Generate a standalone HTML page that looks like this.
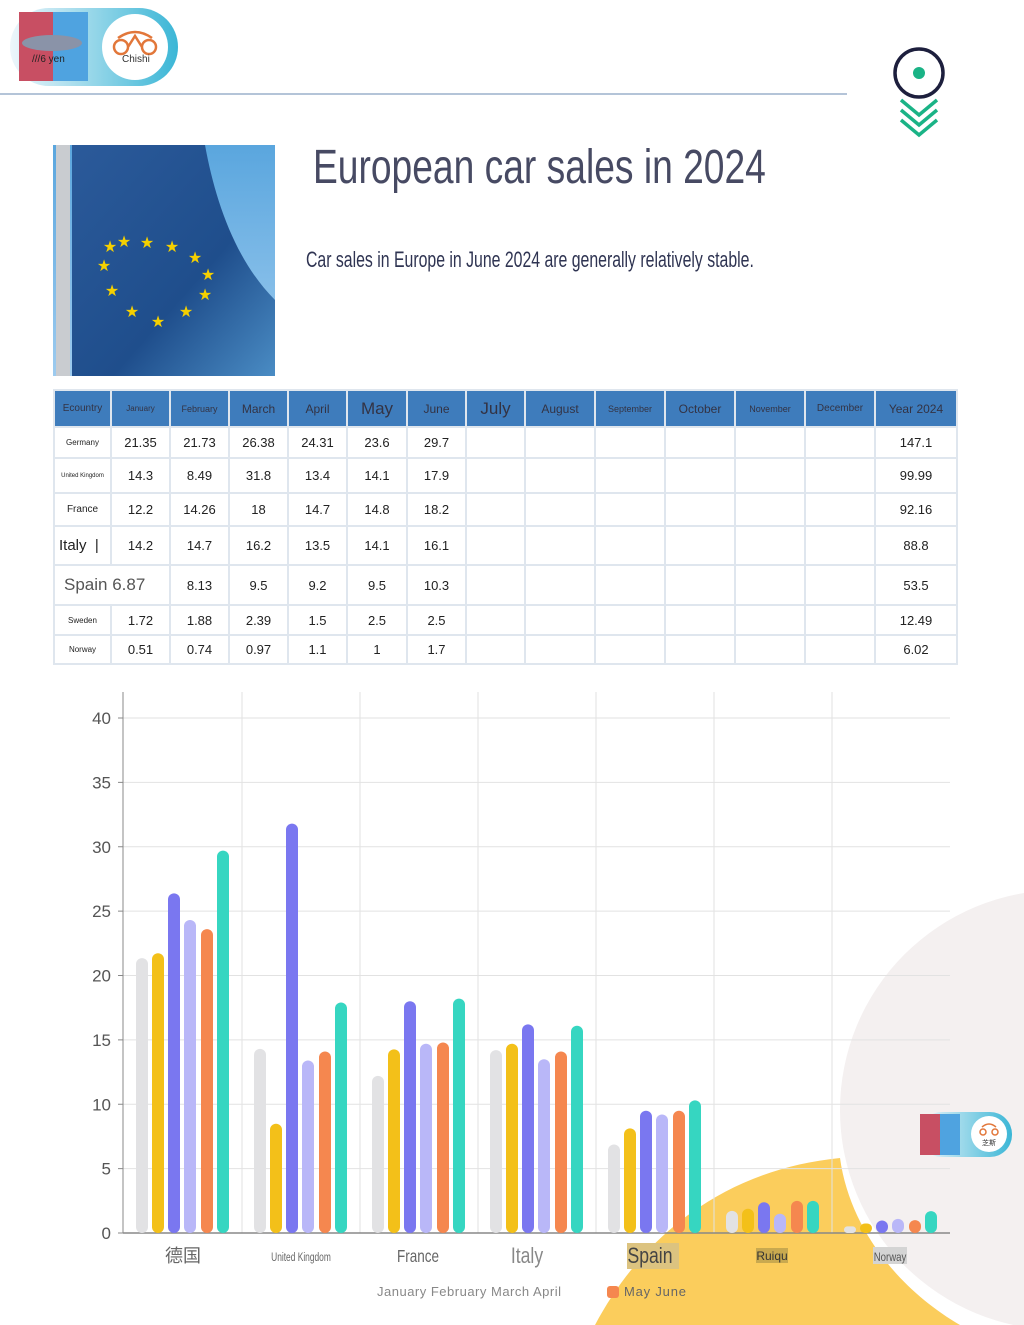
<!DOCTYPE html>
<html><head><meta charset="utf-8"><style>
body{margin:0;width:1024px;height:1325px;position:relative;background:#fff;font-family:"Liberation Sans",sans-serif;overflow:hidden}
.abs{position:absolute}
table{border-collapse:separate;border-spacing:2px;position:absolute;left:53px;top:389px;background:#dfe6ee;table-layout:fixed}
td,th{background:#fff;text-align:center;font-size:13px;color:#222;padding:0}
th{background:#3e7cbc;color:#334;font-weight:normal;font-size:12px;height:35px}
</style></head><body>
<svg class="abs" style="left:0;top:0" width="1024" height="1325">
<defs>
<linearGradient id="fl" x1="0" y1="0" x2="1" y2="1"><stop offset="0" stop-color="#2b5a9a"/><stop offset="0.6" stop-color="#1f4e8c"/><stop offset="1" stop-color="#4a8cc4"/></linearGradient>
<linearGradient id="sky" x1="0" y1="0" x2="0" y2="1"><stop offset="0" stop-color="#5aa6de"/><stop offset="1" stop-color="#9dcbef"/></linearGradient>
<linearGradient id="pill" x1="0" x2="1"><stop offset="0" stop-color="#eef6fb"/><stop offset="1" stop-color="#3bb6d6"/></linearGradient>
</defs>
<circle cx="1060" cy="1110" r="220" fill="#f4f0f0"/>
<path d="M595,1325 C640,1240 720,1170 840,1158 C850,1230 900,1290 960,1325 Z" fill="#fbcd5c"/>
<rect x="10" y="8" width="168" height="78" rx="39" fill="url(#pill)"/>
<rect x="19" y="12" width="34" height="69" fill="#c84f63"/><rect x="53" y="12" width="35" height="69" fill="#4fa3e0"/>
<ellipse cx="52" cy="43" rx="30" ry="8" fill="#8a93a8"/>
<text x="32" y="62" font-size="10" fill="#222">///6 yen</text>
<circle cx="135" cy="47" r="33" fill="#fff"/>
<path d="M114,47 a7,7 0 1,0 14,0 a7,7 0 1,0 -14,0 M142,47 a7,7 0 1,0 14,0 a7,7 0 1,0 -14,0 M118,38 Q135,26 152,38 M128,47 L135,36 L142,47" stroke="#e2773a" stroke-width="2.5" fill="none"/>
<text x="122" y="62" font-size="10" fill="#333">Chishi</text>
<line x1="0" y1="94" x2="847" y2="94" stroke="#b4c4d8" stroke-width="2"/>
<circle cx="919" cy="73" r="24" fill="none" stroke="#1d1f3d" stroke-width="3.5"/>
<circle cx="919" cy="73" r="6" fill="#1ab386"/>
<path d="M901,100 L919,115 L937,100 M901,110 L919,125 L937,110 M901,120 L919,135 L937,120" stroke="#1ab386" stroke-width="3.5" fill="none"/>
<rect x="53" y="145" width="222" height="231" fill="url(#sky)"/>
<path d="M72,145 L205,145 C215,200 235,260 275,300 L275,376 L72,376 Z" fill="url(#fl)"/>
<rect x="56" y="145" width="14" height="231" fill="#c9ccd0"/>
<g fill="#f5d000" font-size="16" text-anchor="middle">
<text x="124" y="247">★</text><text x="147" y="248">★</text><text x="172" y="252">★</text><text x="195" y="263">★</text><text x="208" y="280">★</text><text x="205" y="300">★</text><text x="186" y="317">★</text><text x="158" y="327">★</text><text x="132" y="317">★</text><text x="112" y="296">★</text><text x="104" y="271">★</text><text x="110" y="252">★</text>
</g>
<text x="313" y="183" font-size="48" fill="#474a63" transform="translate(313 0) scale(0.775 1) translate(-313 0)">European car sales in 2024</text>
<text x="306" y="267" font-size="22" fill="#2f3452" transform="translate(306 0) scale(0.72 1) translate(-306 0)">Car sales in Europe in June 2024 are generally relatively stable.</text>
<g id="grid" stroke="#e2e2e2" stroke-width="1"></g>
<line x1="123" y1="692" x2="123" y2="1233" stroke="#888"/>
<line x1="123" y1="1233" x2="950" y2="1233" stroke="#888" stroke-width="1.5"/>
<g id="bars"></g>
<g font-size="17" fill="#555" text-anchor="end" id="yl"></g>
<g text-anchor="middle" fill="#666">
<text x="183" y="1262" font-size="18" font-family="Noto Sans CJK SC,sans-serif">德国</text>
<text x="301" y="1261" font-size="12" transform="translate(301 0) scale(0.7 1) translate(-301 0)">United Kingdom</text>
<text x="418" y="1262" font-size="18" transform="translate(418 0) scale(0.75 1) translate(-418 0)">France</text>
<text x="527" y="1263" font-size="22" fill="#888" transform="translate(527 0) scale(0.8 1) translate(-527 0)">Italy</text>
<rect x="627" y="1243" width="52" height="26" fill="#dcc380"/>
<text x="650" y="1263" font-size="22" fill="#444" transform="translate(650 0) scale(0.8 1) translate(-650 0)">Spain</text>
<rect x="756" y="1248" width="32" height="15" fill="#c9a94f"/>
<text x="772" y="1260" font-size="12" fill="#333">Ruiqu</text>
<rect x="873" y="1247" width="34" height="17" fill="#d4d4d4"/>
<text x="890" y="1261" font-size="12" fill="#555" transform="translate(890 0) scale(0.8 1) translate(-890 0)">Norway</text>
</g>
<text x="377" y="1296" font-size="13" fill="#888" letter-spacing="0.5">January February March April</text>
<rect x="607" y="1286" width="12" height="12" rx="3" fill="#f5874f"/>
<text x="624" y="1296" font-size="13" fill="#666" letter-spacing="0.8">May June</text>
<rect x="920" y="1112" width="92" height="45" rx="22" fill="url(#pill)"/>
<rect x="920" y="1114" width="20" height="41" fill="#c84f63"/><rect x="940" y="1114" width="20" height="41" fill="#4fa3e0"/>
<circle cx="989" cy="1134" r="18" fill="#fff"/>
<text x="989" y="1145" font-size="7" text-anchor="middle" fill="#333" font-family="Noto Sans CJK SC,sans-serif">芝斯</text>
<path d="M980,1132 a3,3 0 1,0 6,0 a3,3 0 1,0 -6,0 M992,1132 a3,3 0 1,0 6,0 a3,3 0 1,0 -6,0 M982,1127 Q989,1121 996,1127" stroke="#e2773a" stroke-width="1.5" fill="none"/>
</svg>
<table>
<colgroup><col style="width:55px"><col style="width:57px"><col style="width:57px"><col style="width:57px"><col style="width:57px"><col style="width:58px"><col style="width:57px"><col style="width:57px"><col style="width:68px"><col style="width:68px"><col style="width:68px"><col style="width:68px"><col style="width:68px"><col style="width:80px"></colgroup>
<tr><th style="font-size:10px">Ecountry</th><th style="font-size:8px">January</th><th style="font-size:9px">February</th><th>March</th><th>April</th><th style="font-size:17px">May</th><th>June</th><th style="font-size:17px">July</th><th>August</th><th style="font-size:9px">September</th><th>October</th><th style="font-size:9px">November</th><th style="font-size:10px">December</th><th>Year 2024</th></tr>
<tr style="height:29px"><td style="font-size:8px">Germany</td><td>21.35</td><td>21.73</td><td>26.38</td><td>24.31</td><td>23.6</td><td>29.7</td><td></td><td></td><td></td><td></td><td></td><td></td><td>147.1</td></tr>
<tr style="height:33px"><td style="font-size:6px">United Kingdom</td><td>14.3</td><td>8.49</td><td>31.8</td><td>13.4</td><td>14.1</td><td>17.9</td><td></td><td></td><td></td><td></td><td></td><td></td><td>99.99</td></tr>
<tr style="height:31px"><td style="font-size:10px">France</td><td>12.2</td><td>14.26</td><td>18</td><td>14.7</td><td>14.8</td><td>18.2</td><td></td><td></td><td></td><td></td><td></td><td></td><td>92.16</td></tr>
<tr style="height:37px"><td style="font-size:15px;text-align:left;padding-left:4px">Italy &nbsp;|</td><td>14.2</td><td>14.7</td><td>16.2</td><td>13.5</td><td>14.1</td><td>16.1</td><td></td><td></td><td></td><td></td><td></td><td></td><td>88.8</td></tr>
<tr style="height:38px"><td colspan="2" style="font-size:17px;text-align:left;padding-left:9px;color:#555">Spain 6.87</td><td>8.13</td><td>9.5</td><td>9.2</td><td>9.5</td><td>10.3</td><td></td><td></td><td></td><td></td><td></td><td></td><td>53.5</td></tr>
<tr style="height:28px"><td style="font-size:8px">Sweden</td><td>1.72</td><td>1.88</td><td>2.39</td><td>1.5</td><td>2.5</td><td>2.5</td><td></td><td></td><td></td><td></td><td></td><td></td><td>12.49</td></tr>
<tr style="height:27px"><td style="font-size:8px">Norway</td><td>0.51</td><td>0.74</td><td>0.97</td><td>1.1</td><td>1</td><td>1.7</td><td></td><td></td><td></td><td></td><td></td><td></td><td>6.02</td></tr>
</table>
<script>
var ns="http://www.w3.org/2000/svg";
function el(p,t,a,txt){var e=document.createElementNS(ns,t);for(var k in a)e.setAttribute(k,a[k]);if(txt!=null)e.textContent=txt;document.getElementById(p).appendChild(e);}
for(var v=0;v<=40;v+=5){var y=1233-v*12.875;if(v>0)el("grid","line",{x1:123,x2:950,y1:y,y2:y});el("yl","text",{x:111,y:y+6},v);el("grid","line",{x1:118,x2:123,y1:y,y2:y,stroke:"#888"});}
[242,360,478,596,714,832].forEach(function(x){el("grid","line",{x1:x,x2:x,y1:692,y2:1233});});
var d=[[21.35,21.73,26.38,24.31,23.6,29.7],[14.3,8.49,31.8,13.4,14.1,17.9],[12.2,14.26,18,14.7,14.8,18.2],[14.2,14.7,16.2,13.5,14.1,16.1],[6.87,8.13,9.5,9.2,9.5,10.3],[1.72,1.88,2.39,1.5,2.5,2.5],[0.51,0.74,0.97,1.1,1,1.7]];
var c=["#e2e2e4","#f3c019","#7a77f0","#b9b7f8","#f5874f","#36d6c1"],off=[-41,-25,-9,7,24,40];
d.forEach(function(g,i){var cx=183+118*i;g.forEach(function(v,j){var h=v*12.875;el("bars","rect",{x:cx+off[j]-6,y:1233-h,width:12,height:h,rx:Math.min(6,h/2),fill:c[j]});});});
</script>
</body></html>
